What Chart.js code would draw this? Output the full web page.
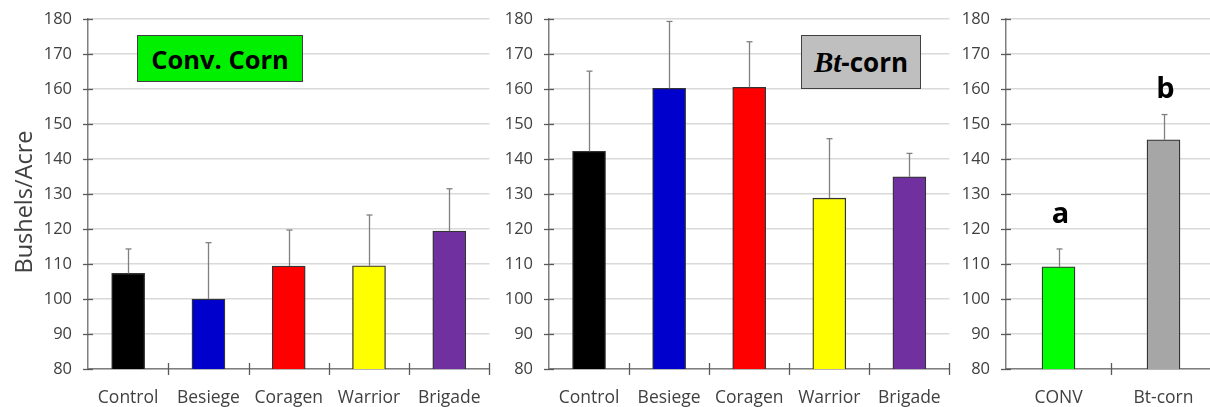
<!DOCTYPE html>
<html><head><meta charset="utf-8">
<script src="https://cdn.jsdelivr.net/npm/chart.js@4/dist/chart.umd.min.js"></script>
<style>
html,body{margin:0;padding:0;background:#fff;width:1210px;height:407px;overflow:hidden;position:relative}
.p{position:absolute;top:0;height:407px}
canvas{display:block}
.box{position:absolute;box-sizing:border-box;border:1.5px solid #404040;display:flex;align-items:center;justify-content:center;color:#000;white-space:nowrap}
</style></head><body>
<div class="p" style="left:0;width:500px"><canvas id="c1" width="500" height="407"></canvas></div>
<div class="p" style="left:500px;width:460px"><canvas id="c2" width="460" height="407"></canvas></div>
<div class="p" style="left:960px;width:260px"><canvas id="c3" width="260" height="407"></canvas></div>
<div class="box" style="left:137px;top:35px;width:166px;height:47px;background:#00F000;font:bold 25.5px 'Open Sans',sans-serif;">Conv. Corn</div>
<div class="box" style="left:801px;top:35px;width:120px;height:54px;background:#BFBFBF;font:bold 26px 'Open Sans',sans-serif;"><span style="font:italic bold 29px 'Liberation Serif',serif;">Bt</span>-corn</div>
<script>
// ---- data ----
const treatments = ['Control', 'Besiege', 'Coragen', 'Warrior', 'Brigade'];
const convMeans = [107.3, 100.0, 109.4, 109.5, 119.4];
const convErrTop = [114.3, 116.1, 119.7, 124.0, 131.5];
const convColors = ['#000000', '#0000CC', '#FF0000', '#FFFF00', '#7030A0'];

const btMeans = [142.2, 160.2, 160.5, 128.8, 134.9];
const btErrTop = [165.1, 179.3, 173.5, 145.8, 141.6];
const btColors = ['#000000', '#0000CC', '#FF0000', '#FFFF00', '#7030A0'];

const sumCats = ['CONV', 'Bt-corn'];
const sumMeans = [109.2, 145.5];
const sumErrTop = [114.3, 152.7];
const sumColors = ['#00FF00', '#A6A6A6'];
const sigLetters = ['a', 'b'];
const sigLetterAt = [121.8, 157.3];

const yMin = 80, yMax = 180, yStep = 10;
const yTitle = 'Bushels/Acre';

const FONT = "'Open Sans', sans-serif";
const AXIS = '#7f7f7f';
const TEXT = '#404040';

const decoPlugin = {
  id: 'deco',
  afterDatasetsDraw(chart, args, opts) {
    const ctx = chart.ctx;
    const x = chart.scales.x, y = chart.scales.y;
    const ca = chart.chartArea;
    ctx.save();
    // crossing tick marks
    ctx.strokeStyle = '#595959';
    ctx.lineWidth = 1.3;
    y.ticks.forEach((t, i) => {
      const py = Math.round(y.getPixelForTick(i)) + 0.5;
      ctx.beginPath(); ctx.moveTo(ca.left - 5, py); ctx.lineTo(ca.left + 5, py); ctx.stroke();
    });
    const n = chart.data.labels.length;
    for (let i = 1; i <= n; i++) {
      const px = i < n ? (x.getPixelForValue(i - 1) + x.getPixelForValue(i)) / 2 : ca.right;
      ctx.beginPath(); ctx.moveTo(Math.round(px) + 0.5, ca.bottom - 6); ctx.lineTo(Math.round(px) + 0.5, ca.bottom + 6); ctx.stroke();
    }
    // error bars
    const meta = chart.getDatasetMeta(0);
    ctx.strokeStyle = '#808080';
    ctx.lineWidth = 1.3;
    opts.err.forEach((e, i) => {
      const bar = meta.data[i];
      const px = Math.round(bar.x) + 0.5;
      const top = y.getPixelForValue(e);
      ctx.beginPath(); ctx.moveTo(px, bar.y); ctx.lineTo(px, top); ctx.stroke();
      ctx.beginPath(); ctx.moveTo(px - 3, top); ctx.lineTo(px + 3, top); ctx.stroke();
    });
    // significance letters
    if (opts.letters) {
      ctx.fillStyle = '#000';
      ctx.font = 'bold 29px ' + FONT;
      ctx.textAlign = 'center';
      ctx.textBaseline = 'alphabetic';
      opts.letters.forEach((l, i) => {
        ctx.fillText(l, meta.data[i].x + 2, y.getPixelForValue(opts.letterAt[i]));
      });
    }
    // y title
    if (opts.title) {
      ctx.fillStyle = TEXT;
      ctx.font = '23.5px ' + FONT;
      ctx.textAlign = 'center';
      ctx.textBaseline = 'middle';
      ctx.translate(25, 202);
      ctx.rotate(-Math.PI / 2);
      ctx.fillText(opts.title, 0, 0);
    }
    ctx.restore();
  }
};

function makeChart(id, labels, means, errTop, colors, yWidth, padRight, extra) {
  return new Chart(document.getElementById(id), {
    type: 'bar',
    data: {
      labels: labels,
      datasets: [{
        data: means,
        backgroundColor: colors,
        borderColor: '#333333',
        borderWidth: 1.3,
        borderSkipped: 'bottom',
        barThickness: 33
      }]
    },
    options: {
      responsive: false,
      animation: false,
      layout: { padding: { left: 0, right: padRight, top: 19, bottom: 0 } },
      plugins: {
        legend: { display: false },
        tooltip: { enabled: false },
        deco: Object.assign({ err: errTop }, extra || {})
      },
      scales: {
        x: {
          grid: { display: false, drawTicks: false },
          border: { display: true, color: AXIS, width: 1.5 },
          ticks: { color: TEXT, font: { family: FONT, size: 17.5 }, padding: 19, maxRotation: 0, autoSkip: false },
          afterFit(s) { s.height = 38; }
        },
        y: {
          min: yMin, max: yMax,
          grid: { color: '#d9d9d9', lineWidth: 1.5, drawTicks: true, tickLength: 16, tickColor: 'rgba(0,0,0,0)' },
          border: { display: true, color: AXIS, width: 1.5 },
          ticks: { stepSize: yStep, color: TEXT, font: { family: FONT, size: 16.5 }, padding: 0 },
          afterFit(s) { s.width = yWidth; }
        }
      }
    },
    plugins: [decoPlugin]
  });
}

makeChart('c1', treatments, convMeans, convErrTop, convColors, 88, 4, { title: yTitle });
makeChart('c2', treatments, btMeans, btErrTop, btColors, 49, 3);
makeChart('c3', sumCats, sumMeans, sumErrTop, sumColors, 46, 4, { letters: sigLetters, letterAt: sigLetterAt });
</script>
</body></html>
